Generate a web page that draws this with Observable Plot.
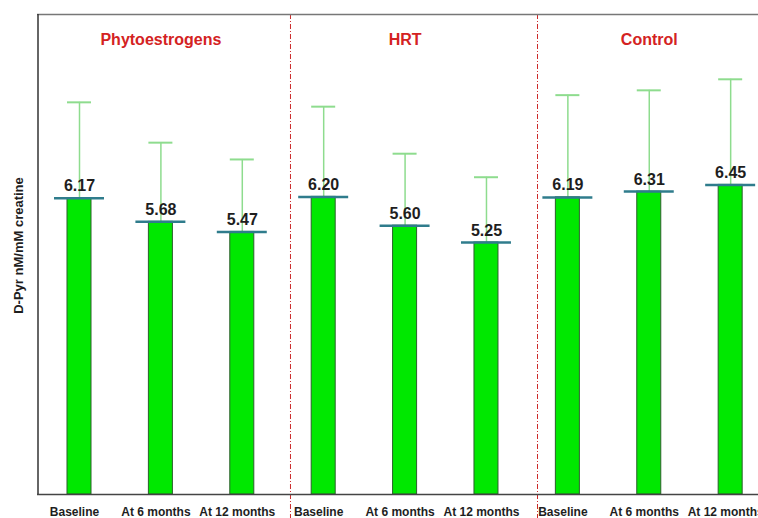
<!DOCTYPE html>
<html>
<head>
<meta charset="utf-8">
<script src="https://cdn.jsdelivr.net/npm/d3@7"></script>
<script src="https://cdn.jsdelivr.net/npm/@observablehq/plot@0.6"></script>
<style>
  html, body { margin: 0; padding: 0; background: #fff; overflow: hidden; }
  #chart { width: 758px; height: 518px; }
</style>
</head>
<body>
<div id="chart"></div>
<script>
// Data
const groups = ["Phytoestrogens", "HRT", "Control"];
const timepoints = ["Baseline", "At 6 months", "At 12 months"];
const means = [6.17, 5.68, 5.47, 6.20, 5.60, 5.25, 6.19, 6.31, 6.45];
const errors = [2.00, 1.65, 1.51, 1.88, 1.50, 1.36, 2.13, 2.11, 2.20];
const yLabel = "D-Pyr nM/mM creatine";

const rows = means.map((m, i) => ({
  i,
  group: groups[Math.floor(i / 3)],
  time: timepoints[i % 3],
  mean: m,
  hi: m + errors[i]
}));
const groupRows = groups.map((g, k) => ({ g, i: k * 3 + 1 }));
const dividers = [2.592, 5.627];

const barHalf = 0.1475;
const capHalf = 0.307;
const font = "Liberation Sans, Arial, Helvetica, sans-serif";

const chart = Plot.plot({
  width: 758,
  height: 518,
  marginLeft: 37,
  marginRight: 0,
  marginTop: 14,
  marginBottom: 24,
  style: { fontFamily: font, background: "#fff", overflow: "hidden" },
  x: { domain: [-0.516, 8.342], axis: null },
  y: { domain: [0, 10], axis: null },
  marks: [
    // dividers between groups
    Plot.ruleX(dividers, { x: d => d, y1: 10, y2: -0.5, stroke: "#cc2a2a", strokeWidth: 1, strokeDasharray: "5,2,1,2" }),
    // error bars (upper only)
    Plot.ruleX(rows, { x: "i", y1: "mean", y2: "hi", stroke: "#8edc8e", strokeWidth: 1.5 }),
    Plot.ruleY(rows, { y: "hi", x1: d => d.i - barHalf, x2: d => d.i + barHalf, stroke: "#8edc8e", strokeWidth: 2 }),
    // bars
    Plot.rectY(rows, { x1: d => d.i - barHalf, x2: d => d.i + barHalf, y1: 0, y2: "mean", fill: "#00e800", stroke: "#2c5f2c", strokeWidth: 1 }),
    // mean caps
    Plot.ruleY(rows, { y: "mean", x1: d => d.i - capHalf, x2: d => d.i + capHalf, stroke: "#2f7c8c", strokeWidth: 2.5 }),
    // value labels
    Plot.text(rows, { x: "i", y: "mean", text: d => d.mean.toFixed(2), dy: -7, lineAnchor: "bottom", fontSize: 16, fontWeight: "bold", fill: "#1e1e1e" }),
    // group titles
    Plot.text(groupRows, { x: "i", frameAnchor: "top", dy: 25, lineAnchor: "middle", text: "g", fontSize: 16, fontWeight: "bold", fill: "#d42222" }),
    // frame lines
    Plot.ruleY([10], { stroke: "#777", strokeWidth: 1.5 }),
    Plot.ruleY([0], { stroke: "#444", strokeWidth: 1.5 }),
    Plot.ruleX([-0.516], { y1: 0, y2: 10, stroke: "#333", strokeWidth: 1.5, dx: 0.5 }),
    // x axis tick labels
    Plot.axisX({
      ticks: d3.range(9),
      tickFormat: i => timepoints[i % 3],
      tickSize: 0,
      tickPadding: 13,
      dx: -5,
      fontSize: 12,
      fontWeight: "bold",
      fill: "#1e1e1e",
      label: null
    }),
    // y label
    Plot.text([yLabel], { frameAnchor: "left", textAnchor: "middle", text: d => d, rotate: -90, dx: -19, dy: -9, fontSize: 13, fontWeight: "bold", fill: "#1e1e1e" })
  ]
});
document.getElementById("chart").appendChild(chart);
</script>
</body>
</html>
